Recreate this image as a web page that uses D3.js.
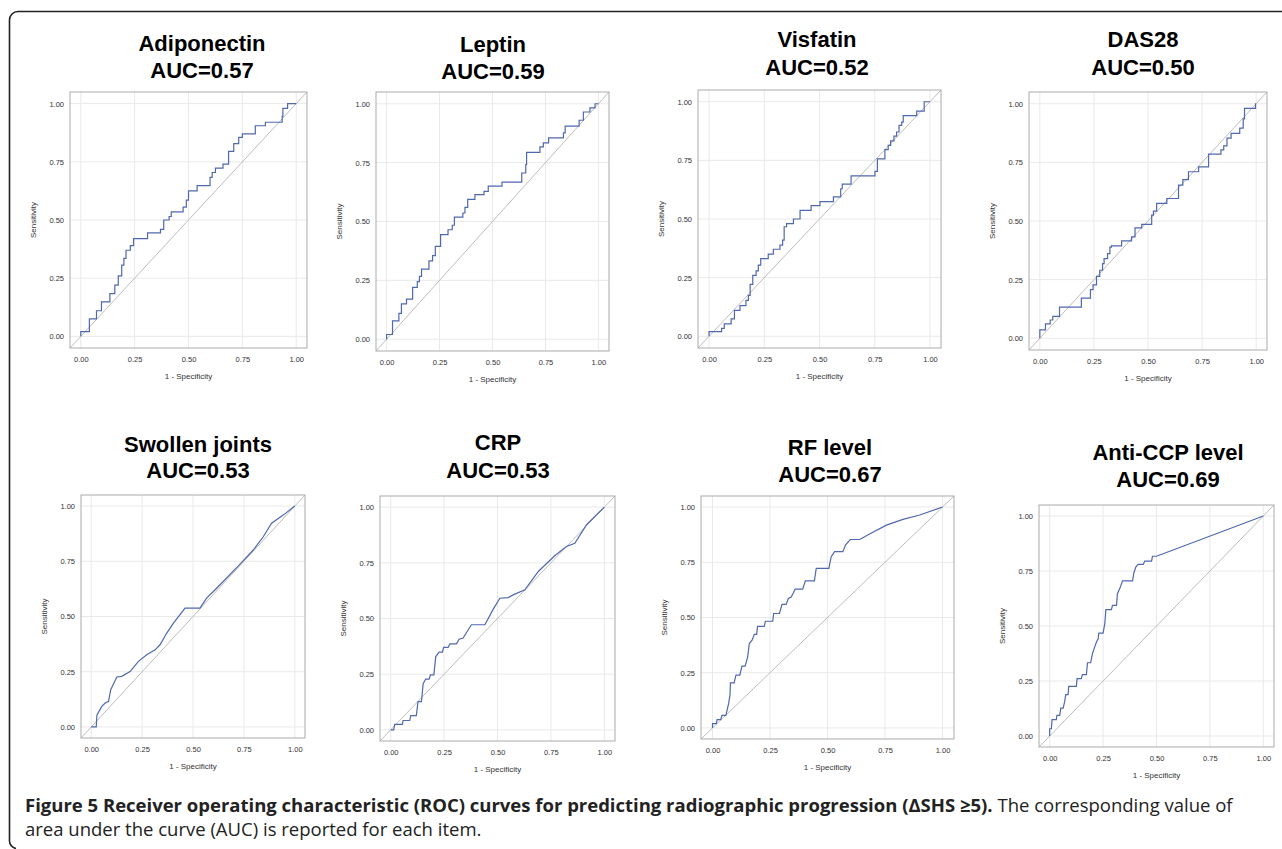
<!DOCTYPE html>
<html>
<head>
<meta charset="utf-8">
<script src="https://cdn.jsdelivr.net/npm/d3@7"></script>
<style>
  body { margin: 0; background: #fff; }
  svg { display: block; }
  .tick text { font-family: "Liberation Sans", Arial, sans-serif; font-size: 7.5px; fill: #333; }
</style>
</head>
<body>
<svg id="fig" width="1282" height="849"></svg>
<script>

// panel names and AUC values
let names = ["Adiponectin", "Leptin", "Visfatin", "DAS28", "Swollen joints", "CRP", "RF level", "Anti-CCP level"];
let aucs = ["0.57", "0.59", "0.52", "0.50", "0.53", "0.53", "0.67", "0.69"];
let tickValues = [0, 0.25, 0.5, 0.75, 1];

// ROC points [1 - specificity, sensitivity]
// step curves: each point is where a vertical rise happens and the level after it
let adiponectin = [[0,0],[0,0.02],[0.04,0.075],[0.073,0.11],[0.096,0.148],[0.135,0.184],[0.158,0.22],[0.174,0.26],[0.19,0.306],[0.2,0.335],[0.21,0.37],[0.23,0.39],[0.245,0.42],[0.31,0.445],[0.37,0.46],[0.385,0.5],[0.41,0.515],[0.42,0.535],[0.475,0.555],[0.49,0.585],[0.5,0.625],[0.54,0.648],[0.6,0.683],[0.61,0.704],[0.625,0.723],[0.66,0.74],[0.686,0.795],[0.71,0.828],[0.733,0.855],[0.75,0.87],[0.81,0.905],[0.857,0.92],[0.935,0.945],[0.938,0.98],[0.96,1],[1,1]];
let leptin = [[0,0],[0,0.02],[0.028,0.078],[0.058,0.11],[0.07,0.15],[0.094,0.17],[0.123,0.22],[0.145,0.245],[0.155,0.267],[0.165,0.298],[0.2,0.333],[0.217,0.355],[0.23,0.394],[0.255,0.444],[0.29,0.465],[0.31,0.484],[0.32,0.519],[0.36,0.536],[0.37,0.56],[0.383,0.594],[0.417,0.614],[0.46,0.628],[0.48,0.65],[0.545,0.667],[0.638,0.706],[0.657,0.742],[0.661,0.794],[0.724,0.817],[0.74,0.834],[0.765,0.855],[0.835,0.876],[0.843,0.905],[0.909,0.93],[0.929,0.965],[0.96,0.983],[0.984,1],[1,1]];
let visfatin = [[0,0],[0,0.02],[0.057,0.034],[0.069,0.053],[0.1,0.074],[0.115,0.11],[0.14,0.131],[0.167,0.153],[0.178,0.174],[0.186,0.221],[0.198,0.26],[0.213,0.279],[0.223,0.303],[0.234,0.331],[0.268,0.35],[0.291,0.371],[0.321,0.389],[0.333,0.41],[0.34,0.467],[0.351,0.48],[0.382,0.5],[0.412,0.537],[0.462,0.557],[0.502,0.574],[0.563,0.594],[0.596,0.629],[0.603,0.649],[0.643,0.684],[0.751,0.703],[0.762,0.756],[0.796,0.796],[0.811,0.814],[0.822,0.833],[0.837,0.853],[0.849,0.871],[0.86,0.899],[0.872,0.913],[0.879,0.941],[0.94,0.96],[0.974,1],[1,1]];
let das28 = [[0,0],[0,0.036],[0.026,0.061],[0.048,0.078],[0.06,0.093],[0.091,0.133],[0.192,0.171],[0.234,0.207],[0.246,0.228],[0.262,0.264],[0.277,0.29],[0.29,0.318],[0.297,0.34],[0.313,0.361],[0.324,0.389],[0.331,0.394],[0.378,0.415],[0.424,0.432],[0.44,0.471],[0.471,0.486],[0.517,0.525],[0.525,0.542],[0.54,0.575],[0.587,0.596],[0.641,0.653],[0.661,0.676],[0.687,0.71],[0.734,0.731],[0.78,0.785],[0.837,0.803],[0.85,0.82],[0.865,0.853],[0.884,0.874],[0.924,0.896],[0.94,0.935],[0.946,0.98],[0.997,1],[1,1]];

// linear curves: points joined directly
let swollenJoints = [[0,0],[0.025,0],[0.028,0.053],[0.052,0.093],[0.069,0.108],[0.085,0.116],[0.096,0.169],[0.126,0.226],[0.15,0.229],[0.191,0.251],[0.232,0.297],[0.273,0.327],[0.314,0.349],[0.338,0.372],[0.371,0.425],[0.404,0.47],[0.461,0.538],[0.534,0.538],[0.567,0.583],[0.616,0.628],[0.73,0.736],[0.796,0.801],[0.845,0.861],[0.886,0.922],[0.943,0.959],[1,1]];
let crp = [[0,0],[0.014,0],[0.019,0.025],[0.055,0.025],[0.058,0.042],[0.089,0.042],[0.094,0.064],[0.12,0.064],[0.128,0.127],[0.144,0.127],[0.152,0.207],[0.164,0.228],[0.18,0.228],[0.186,0.247],[0.202,0.247],[0.211,0.329],[0.227,0.349],[0.242,0.349],[0.248,0.37],[0.269,0.37],[0.277,0.386],[0.308,0.386],[0.32,0.407],[0.339,0.412],[0.355,0.437],[0.378,0.472],[0.441,0.472],[0.48,0.542],[0.511,0.591],[0.55,0.594],[0.573,0.606],[0.628,0.629],[0.691,0.711],[0.769,0.783],[0.823,0.823],[0.862,0.838],[0.917,0.921],[1,1]];
let rfLevel = [[0,0],[0,0.02],[0.017,0.02],[0.02,0.038],[0.036,0.038],[0.041,0.057],[0.058,0.057],[0.065,0.088],[0.07,0.11],[0.076,0.148],[0.078,0.204],[0.094,0.204],[0.102,0.239],[0.119,0.239],[0.128,0.28],[0.142,0.28],[0.153,0.322],[0.16,0.382],[0.172,0.397],[0.182,0.424],[0.192,0.424],[0.196,0.46],[0.225,0.46],[0.23,0.483],[0.262,0.483],[0.266,0.518],[0.291,0.518],[0.302,0.559],[0.32,0.559],[0.33,0.586],[0.342,0.593],[0.352,0.612],[0.359,0.628],[0.392,0.628],[0.404,0.666],[0.443,0.666],[0.451,0.722],[0.506,0.722],[0.516,0.775],[0.531,0.798],[0.567,0.798],[0.578,0.828],[0.599,0.853],[0.64,0.853],[0.683,0.878],[0.756,0.918],[0.828,0.944],[0.901,0.964],[1,1]];
let antiCcp = [[0,0],[0,0.033],[0.008,0.033],[0.011,0.074],[0.031,0.074],[0.034,0.094],[0.047,0.094],[0.052,0.127],[0.063,0.127],[0.07,0.155],[0.075,0.188],[0.086,0.188],[0.089,0.226],[0.125,0.226],[0.128,0.261],[0.148,0.261],[0.153,0.279],[0.172,0.279],[0.177,0.333],[0.192,0.333],[0.2,0.374],[0.208,0.397],[0.219,0.427],[0.227,0.442],[0.23,0.468],[0.25,0.468],[0.258,0.511],[0.263,0.574],[0.289,0.574],[0.294,0.594],[0.313,0.594],[0.317,0.647],[0.328,0.67],[0.341,0.705],[0.388,0.705],[0.394,0.741],[0.403,0.768],[0.414,0.78],[0.438,0.78],[0.445,0.795],[0.477,0.795],[0.481,0.817],[0.5,0.817],[1,1]];

let curves = [adiponectin, leptin, visfatin, das28, swollenJoints, crp, rfLevel, antiCcp];
let stepped = [true, true, true, true, false, false, false, false];

// caption
let captionBold = "Figure 5 Receiver operating characteristic (ROC) curves for predicting radiographic progression (\u0394SHS \u22655).";
let captionRest = " The corresponding value of";
let captionLine2 = "area under the curve (AUC) is reported for each item.";

// plot frame (left, top, right, bottom) and title centre/baselines of every panel
let layout = [
  { l: 70,   t: 92,  r: 307,  b: 348, cx: 202,  y1: 51,  y2: 78 },
  { l: 376,  t: 92,  r: 609,  b: 351, cx: 493,  y1: 52,  y2: 79 },
  { l: 698,  t: 90,  r: 941,  b: 348, cx: 817,  y1: 47,  y2: 75 },
  { l: 1029, t: 92,  r: 1267, b: 350, cx: 1143, y1: 47,  y2: 75 },
  { l: 81,   t: 495, r: 305,  b: 738, cx: 198,  y1: 452, y2: 478 },
  { l: 380,  t: 496, r: 615,  b: 741, cx: 498,  y1: 450, y2: 478 },
  { l: 701,  t: 496, r: 954,  b: 739, cx: 830,  y1: 455, y2: 482 },
  { l: 1039, t: 505, r: 1274, b: 747, cx: 1168, y1: 460, y2: 487 }
];

const lineColor = "#5068ae";
const gridColor = "#e9e9e9";

let svg = d3.select("svg#fig");

// outer frame, only top and left edges show
svg.append("path")
  .attr("d", "M1282,11.5 H18 A8.5,8.5 0 0 0 9.5,20 V840 A8,8 0 0 0 16,848.5")
  .attr("fill", "none")
  .attr("stroke", "#222")
  .attr("stroke-width", 1.6);

function drawPanel(i) {

  let p = layout[i];
  let g = svg.append("g").attr("class", "panel");

  let x = d3.scaleLinear().domain([-0.05, 1.05]).range([p.l, p.r]);
  let y = d3.scaleLinear().domain([-0.05, 1.05]).range([p.b, p.t]);

  // grid
  g.selectAll("line.gx").data(tickValues).enter().append("line")
    .attr("x1", d => x(d)).attr("x2", d => x(d))
    .attr("y1", p.t).attr("y2", p.b)
    .attr("stroke", gridColor);

  g.selectAll("line.gy").data(tickValues).enter().append("line")
    .attr("x1", p.l).attr("x2", p.r)
    .attr("y1", d => y(d)).attr("y2", d => y(d))
    .attr("stroke", gridColor);

  // reference diagonal
  g.append("line")
    .attr("x1", x(-0.05)).attr("y1", y(-0.05))
    .attr("x2", x(1.05)).attr("y2", y(1.05))
    .attr("stroke", "#bdbdbd")
    .attr("stroke-width", 1);

  // ROC curve
  let line = d3.line()
    .x(d => x(d[0]))
    .y(d => y(d[1]))
    .curve(stepped[i] ? d3.curveStepAfter : d3.curveLinear);

  g.append("path")
    .datum(curves[i])
    .attr("d", line)
    .attr("fill", "none")
    .attr("stroke", lineColor)
    .attr("stroke-width", 1.2);

  // frame
  g.append("rect")
    .attr("x", p.l).attr("y", p.t)
    .attr("width", p.r - p.l).attr("height", p.b - p.t)
    .attr("fill", "none")
    .attr("stroke", "#ababab");

  // axes
  let fmt = d3.format(".2f");

  g.append("g")
    .attr("transform", `translate(0,${p.b})`)
    .call(d3.axisBottom(x).tickValues(tickValues).tickFormat(fmt).tickSize(0).tickPadding(9))
    .call(a => a.select(".domain").remove());

  g.append("g")
    .attr("transform", `translate(${p.l},0)`)
    .call(d3.axisLeft(y).tickValues(tickValues).tickFormat(fmt).tickSize(0).tickPadding(6))
    .call(a => a.select(".domain").remove());

  g.append("text")
    .attr("x", x(0.5)).attr("y", p.b + 31)
    .attr("text-anchor", "middle")
    .style("font-family", "'Liberation Sans', Arial, sans-serif")
    .style("font-size", "8px")
    .style("fill", "#333")
    .text("1 - Specificity");

  g.append("text")
    .attr("transform", `translate(${p.l - 34},${y(0.5)}) rotate(-90)`)
    .attr("text-anchor", "middle")
    .style("font-family", "'Liberation Sans', Arial, sans-serif")
    .style("font-size", "8px")
    .style("fill", "#333")
    .text("Sensitivity");

  // title
  let title = g.append("text")
    .attr("text-anchor", "middle")
    .style("font-family", "'Liberation Sans', Arial, sans-serif")
    .style("font-size", "22px")
    .style("font-weight", "bold")
    .style("fill", "#000");

  title.append("tspan").attr("x", p.cx).attr("y", p.y1).text(names[i]);
  title.append("tspan").attr("x", p.cx).attr("y", p.y2).text("AUC=" + aucs[i]);
}

d3.range(names.length).forEach(drawPanel);

// caption
let cap = svg.append("text")
  .attr("x", 25).attr("y", 812)
  .style("font-family", "'Open Sans', 'Noto Sans', sans-serif")
  .style("font-size", "18.5px")
  .style("fill", "#222");

cap.append("tspan").style("font-weight", "bold").text(captionBold);
cap.append("tspan").text(captionRest);

svg.append("text")
  .attr("x", 25).attr("y", 836)
  .style("font-family", "'Open Sans', 'Noto Sans', sans-serif")
  .style("font-size", "18.5px")
  .style("fill", "#222")
  .text(captionLine2);

</script>
</body>
</html>
